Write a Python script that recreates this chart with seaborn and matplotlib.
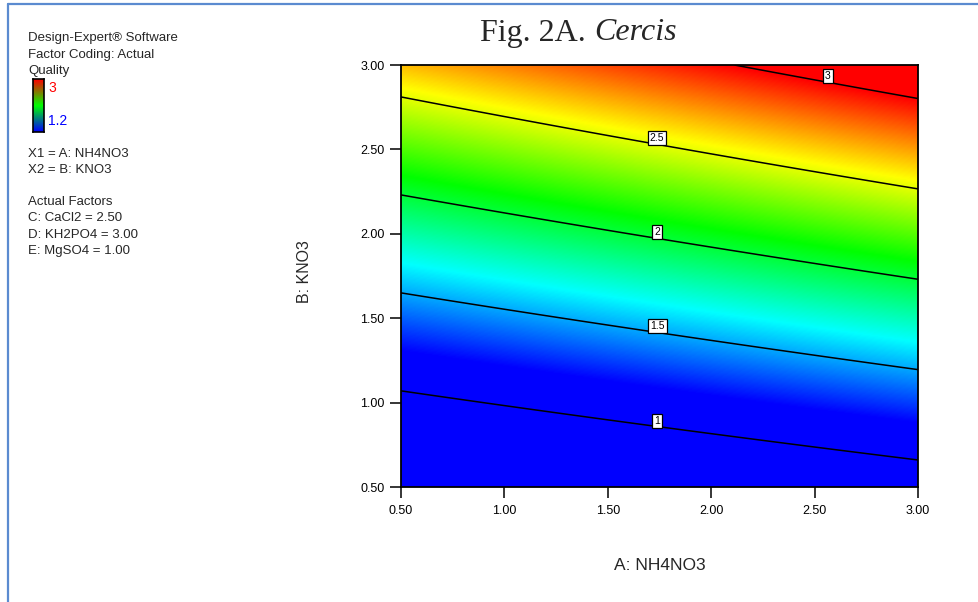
import numpy as np
import matplotlib.pyplot as plt
import seaborn as sns
from matplotlib.lines import Line2D
from matplotlib.transforms import offset_copy

# fitted response surface
# Quality = b0 + bA*A + bB*B + bAB*A*B
b0 = 0.0175
bA = 0.122
bB = 0.847
bAB = 0.029

a_lim = [0.5, 3.0]
b_lim = [0.5, 3.0]
ticks = [0.5, 1.0, 1.5, 2.0, 2.5, 3.0]
levels = [1, 1.5, 2, 2.5, 3]
# where the contour labels sit (A, B)
label_pos = [(1.74, 0.86), (1.74, 1.42), (1.74, 1.99), (1.74, 2.55), (2.56, 2.87)]

q_low, q_high = 1.2, 3.0
surface_colors = ["#0000ff", "#00ffff", "#00ff00", "#ffff00", "#ff0000"]
legend_colors = ["#0000ff", "#00ff00", "#ff0000"]

header = ["Design-Expert\u00ae Software", "Factor Coding: Actual", "Quality"]
coding = ["X1 = A: NH4NO3", "X2 = B: KNO3"]
factors = ["Actual Factors", "C: CaCl2 = 2.50", "D: KH2PO4 = 3.00", "E: MgSO4 = 1.00"]

sns.set_style("ticks")
plt.rcParams['font.family'] = ['Liberation Sans', 'DejaVu Sans']

W, H = 979, 602
fig = plt.figure(figsize=(W / 100, H / 100), dpi=100)
fig.patch.set_facecolor("white")

# outer blue frame (top and left edge visible)
frame_col = "#5b8bd0"
fig.add_artist(Line2D([8.5 / W, 1], [1 - 4 / H, 1 - 4 / H], color=frame_col, lw=1.6))
fig.add_artist(Line2D([8.5 / W, 8.5 / W], [0, 1 - 4 / H], color=frame_col, lw=1.6))

ax = fig.add_axes([401 / W, 1 - 487 / H, 517 / W, 422 / H])

A = np.linspace(a_lim[0], a_lim[1], 400)
B = np.linspace(b_lim[0], b_lim[1], 400)
AA, BB = np.meshgrid(A, B)
Q = b0 + bA * AA + bB * BB + bAB * AA * BB

cmap = sns.blend_palette(surface_colors, as_cmap=True)
ax.imshow(Q, extent=[a_lim[0], a_lim[1], b_lim[0], b_lim[1]], origin="lower",
          cmap=cmap, vmin=q_low, vmax=q_high, aspect="auto", interpolation="bilinear")
cs = ax.contour(AA, BB, Q, levels=levels, colors="black", linewidths=1.1)
labels = ax.clabel(cs, manual=label_pos, inline=False, fontsize=7.5, fmt=lambda v: f"{v:g}")
for t in labels:
    t.set_rotation(0)
    t.set_transform(offset_copy(t.get_transform(), fig=fig, x=0, y=6, units="dots"))
    t.set_bbox(dict(facecolor="white", edgecolor="black", pad=1.4, lw=0.9))

ax.set_xlim(a_lim)
ax.set_ylim(b_lim)
ax.set_xticks(ticks)
ax.set_yticks(ticks)
ax.set_xticklabels([f"{v:.2f}" for v in ticks])
ax.set_yticklabels([f"{v:.2f}" for v in ticks])
ax.tick_params(axis="both", direction="out", length=8, width=1.1, labelsize=9, colors="black")
ax.tick_params(axis="x", pad=5)
ax.tick_params(axis="y", pad=4)
for s in ax.spines.values():
    s.set_linewidth(1.3)
    s.set_color("black")

ax.set_xlabel("A: NH4NO3", fontsize=12.5)
ax.set_ylabel("B: KNO3", fontsize=11.5)
ax.xaxis.set_label_coords(0.5, -0.168)
ax.yaxis.set_label_coords(-0.172, 0.51)

# title with italic genus
fig.text(586 / W, 1 - 33 / H, "Fig. 2A.", family="Liberation Serif", fontsize=23,
         ha="right", va="center")
fig.text(594 / W, 1 - 33 / H, "Cercis", family="Liberation Serif", fontsize=23,
         style="italic", ha="left", va="center")

# left info block
x0 = 28 / W
fs = 9.5
for txt, y in zip(header, [38, 55, 71]):
    fig.text(x0, 1 - y / H, txt, fontsize=fs, ha="left", va="center")
for txt, y in zip(coding, [154, 170]):
    fig.text(x0, 1 - y / H, txt, fontsize=fs, ha="left", va="center")
for txt, y in zip(factors, [202, 218, 235, 251]):
    fig.text(x0, 1 - y / H, txt, fontsize=fs, ha="left", va="center")

cax = fig.add_axes([33 / W, 1 - 132 / H, 11 / W, 53 / H])
grad = np.linspace(q_low, q_high, 100).reshape(-1, 1)
cax.imshow(grad, origin="lower", aspect="auto",
           cmap=sns.blend_palette(legend_colors, as_cmap=True), vmin=q_low, vmax=q_high)
cax.set_xticks([])
cax.set_yticks([])
for s in cax.spines.values():
    s.set_linewidth(1.2)
    s.set_color("black")
fig.text(48 / W, 1 - 88 / H, f"{q_high:g}", color="red", fontsize=10, ha="left", va="center")
fig.text(48 / W, 1 - 121 / H, f"{q_low:g}", color="blue", fontsize=10, ha="left", va="center")

fig.savefig("out.png", dpi=100)
